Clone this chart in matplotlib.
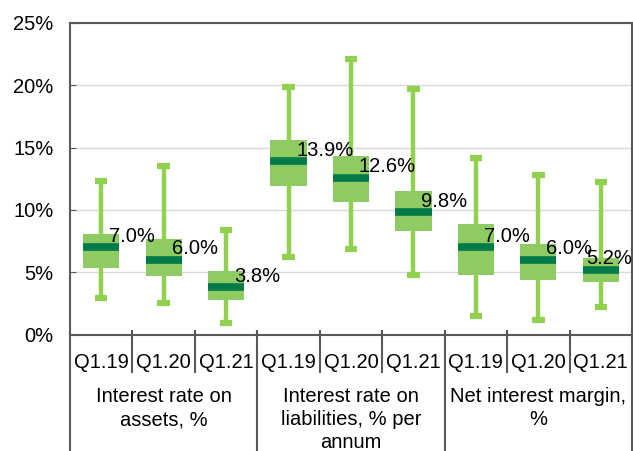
import matplotlib.pyplot as plt
import matplotlib.transforms as mtransforms
from matplotlib.ticker import FuncFormatter

plt.rcParams['font.family'] = ['Liberation Sans', 'DejaVu Sans']

# data (percent)
periods = ["Q1.19", "Q1.20", "Q1.21"] * 3
groups = ["Interest rate on\nassets, %",
          "Interest rate on\nliabilities, % per\nannum",
          "Net interest margin,\n%"]
medians = [7.0, 6.0, 3.8, 13.9, 12.6, 9.8, 7.0, 6.0, 5.2]
q1 = [5.35, 4.7, 2.8, 11.9, 10.6, 8.3, 4.8, 4.4, 4.2]
q3 = [8.1, 7.7, 5.1, 15.65, 14.3, 11.5, 8.9, 7.3, 6.1]
lows = [2.9, 2.5, 0.9, 6.2, 6.9, 4.8, 1.5, 1.2, 2.2]
highs = [12.3, 13.5, 8.4, 19.9, 22.1, 19.7, 14.15, 12.8, 12.2]

box_col = "#8FCB63"
whisk_col = "#92D050"
med_col = "#007A47"
axis_col = "#595959"
fs = 14.5

W, H = 633, 451
fig = plt.figure(figsize=(W / 100, H / 100), dpi=100)
left, right, top, bottom = 70, 632, 23, 334.5
ax = fig.add_axes([left / W, 1 - bottom / H, (right - left) / W, (bottom - top) / H])

stats = []
for i in range(len(medians)):
    stats.append(dict(med=medians[i], q1=q1[i], q3=q3[i],
                      whislo=lows[i], whishi=highs[i], fliers=[]))

pos = list(range(len(medians)))
ax.bxp(stats, positions=pos, widths=0.58, capwidths=0.2, patch_artist=True,
       showfliers=False,
       boxprops=dict(facecolor=box_col, edgecolor="none"),
       whiskerprops=dict(color=whisk_col, linewidth=3.2, solid_capstyle="butt"),
       capprops=dict(color=whisk_col, linewidth=4.5, solid_capstyle="butt"),
       medianprops=dict(color=med_col, linewidth=5.5, solid_capstyle="butt"),
       zorder=3)

# value labels
for i, m in enumerate(medians):
    dx = 3 if i < len(medians) - 1 else -13
    ax.annotate(f"{m:.1f}%", (pos[i] + 0.06, m), xytext=(dx, 8),
                textcoords="offset points", ha="left", va="center",
                fontsize=fs, zorder=5)

ax.set_xlim(-0.5, len(medians) - 0.5)
ax.set_ylim(0, 25)
ax.set_yticks([0, 5, 10, 15, 20, 25])
ax.yaxis.set_major_formatter(FuncFormatter(lambda v, p: f"{v:.0f}%"))
ax.tick_params(axis="y", direction="in", length=4, color=axis_col,
               labelsize=fs, pad=12)
ax.set_xticks([])
ax.grid(axis="y", color="#D9D9D9", linewidth=1)
ax.set_axisbelow(True)
for s in ax.spines.values():
    s.set_color(axis_col)
    s.set_linewidth(1.5)

# category axis drawn below the plot
tr = mtransforms.blended_transform_factory(ax.transData, fig.transFigure)
def fy(px):
    return 1 - px / H

for i in range(len(medians)):
    ax.text(pos[i], fy(362), periods[i], transform=tr, ha="center",
            va="center", fontsize=fs)
for b in range(1, len(medians)):
    if b % 3:
        ax.plot([b - 0.5, b - 0.5], [fy(331), fy(372)], transform=tr,
                color=axis_col, linewidth=1.5, clip_on=False)
for b in range(0, len(medians) + 1, 3):
    ax.plot([b - 0.5, b - 0.5], [fy(331), fy(H)], transform=tr,
            color=axis_col, linewidth=1.5, clip_on=False)
for g, name in enumerate(groups):
    ax.text(3 * g + 1, fy(387), name, transform=tr, ha="center", va="top",
            fontsize=fs, linespacing=1.28)

fig.savefig("out.png", dpi=100)
